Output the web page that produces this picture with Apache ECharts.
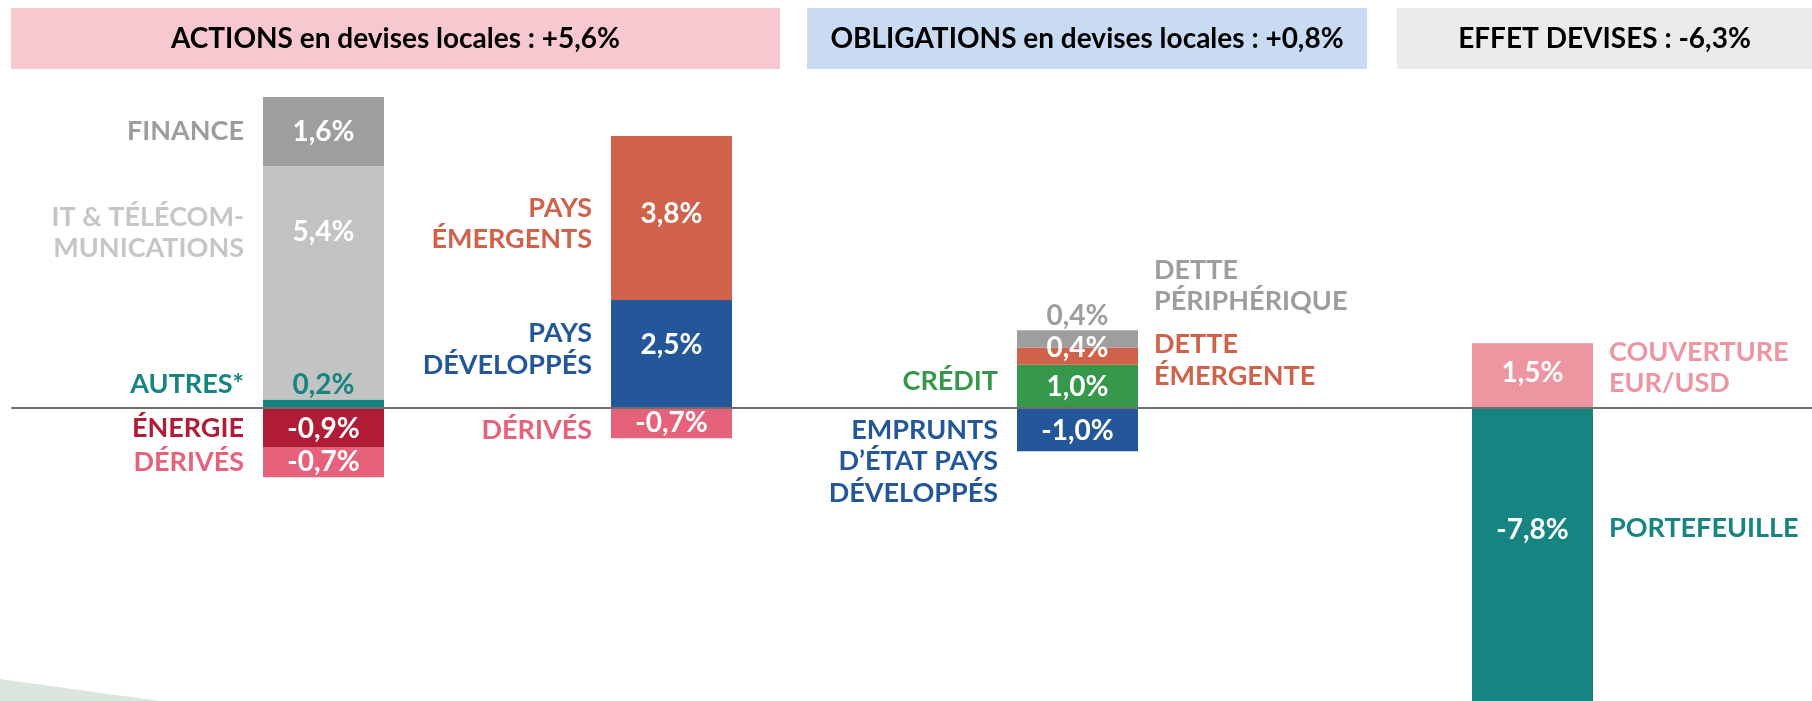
<!DOCTYPE html>
<html>
<head>
<meta charset="utf-8">
<script src="https://cdn.jsdelivr.net/npm/echarts@6/dist/echarts.min.js"></script>
<style>
  html, body { margin: 0; padding: 0; background: #fff; }
  #chart { width: 1812px; height: 701px; }
</style>
</head>
<body>
<div id="chart"></div>
<script>
// en-têtes des trois blocs
var headers = ['ACTIONS en devises locales : +5,6%', 'OBLIGATIONS en devises locales : +0,8%', 'EFFET DEVISES : -6,3%'];

// segments (ordre d'empilement : positifs depuis zéro vers le haut, négatifs vers le bas)
var names = [
  'AUTRES*', 'IT & TÉLÉCOM-\nMUNICATIONS', 'FINANCE', 'ÉNERGIE', 'DÉRIVÉS',
  'PAYS\nDÉVELOPPÉS', 'PAYS\nÉMERGENTS', 'DÉRIVÉS',
  'CRÉDIT', 'DETTE\nÉMERGENTE', 'DETTE\nPÉRIPHÉRIQUE', 'EMPRUNTS\nD’ÉTAT PAYS\nDÉVELOPPÉS',
  'COUVERTURE\nEUR/USD', 'PORTEFEUILLE'
];
var values = [0.2, 5.4, 1.6, -0.9, -0.7, 2.5, 3.8, -0.7, 1.0, 0.4, 0.4, -1.0, 1.5, -7.8];
var column = [0, 0, 0, 0, 0, 1, 1, 1, 2, 2, 2, 2, 3, 3];

// styles
var colors = ['#168480', '#c3c3c3', '#9e9e9e', '#b01c36', '#e6627a',
  '#24569a', '#d0614a', '#e6627a',
  '#35984a', '#d0614a', '#9e9e9e', '#24569a',
  '#ee95a2', '#168480'];
var valueColors = ['#168480', '#fff', '#fff', '#fff', '#fff', '#fff', '#fff', '#fff',
  '#fff', '#fff', '#9e9e9e', '#fff', '#fff', '#fff'];
var nameColors = ['#168480', '#c6c6c6', '#9d9d9d', '#b01c36', '#e6627a',
  '#24569a', '#d0614a', '#e6627a',
  '#35984a', '#d0614a', '#9d9d9d', '#24569a',
  '#ee95a2', '#168480'];
var nameSide = ['left', 'left', 'left', 'left', 'left', 'left', 'left', 'left',
  'left', 'right', 'right', 'left', 'right', 'right'];
var valueDy = [-19, -51, 0, 1, 0, -9, -4, 0, 0, -8, -23, 1, -3, -25];
var nameDy = [-19, -50, 0, 1, 0, -5, 6, 7, -5, 4, -53, 32, -8, -26];

var barLeft = [263, 611, 1017, 1472];
var barW = 121;
var yMin = -6.78, yMax = 7.2;
var font = 'Lato';

var grids = [{ left: 12, right: 0, top: 97, bottom: 0 }];
var xAxes = [{
  gridIndex: 0, type: 'category', data: [''],
  axisLine: { lineStyle: { color: '#6e6e6e', width: 2 } },
  axisTick: { show: false }, axisLabel: { show: false }, z: 5
}];
var yAxes = [{ gridIndex: 0, type: 'value', min: yMin, max: yMax, show: false }];

barLeft.forEach(function (l, i) {
  grids.push({ left: l, width: barW, top: 97, bottom: 0 });
  xAxes.push({ gridIndex: i + 1, type: 'category', data: [''], show: false });
  yAxes.push({ gridIndex: i + 1, type: 'value', min: yMin, max: yMax, show: false });
});

function fmt(v) {
  return v.toFixed(1).replace('.', ',') + '%';
}

var series = [];
values.forEach(function (v, i) {
  var ax = column[i] + 1;
  series.push({
    type: 'bar', xAxisIndex: ax, yAxisIndex: ax, stack: 'v' + ax,
    barWidth: '100%', barGap: '-100%',
    data: [v],
    itemStyle: { color: colors[i] },
    label: {
      show: true, position: 'inside', offset: [0, valueDy[i]],
      formatter: fmt(v), color: valueColors[i],
      fontFamily: font, fontWeight: 'bold', fontSize: 28
    },
    silent: true
  });
  // série transparente qui ne porte que le nom du segment
  series.push({
    type: 'bar', xAxisIndex: ax, yAxisIndex: ax, stack: 'n' + ax,
    barWidth: '100%', barGap: '-100%',
    data: [v],
    itemStyle: { color: 'rgba(0,0,0,0)' },
    label: {
      show: true, position: nameSide[i], distance: nameSide[i] === 'left' ? 19 : 16,
      offset: [0, nameDy[i]],
      align: nameSide[i] === 'left' ? 'right' : 'left',
      formatter: names[i], color: nameColors[i], lineHeight: 31.6,
      fontFamily: font, fontWeight: 'bold', fontSize: 27
    },
    silent: true
  });
});

var headerBoxes = [[11, 780], [807, 1367], [1397, 1812]];
var headerColors = ['#f7c8d0', '#c9dbf2', '#ebebeb'];
var graphic = [];
headers.forEach(function (t, i) {
  var x0 = headerBoxes[i][0], x1 = headerBoxes[i][1];
  graphic.push({
    type: 'rect', z: 1,
    shape: { x: x0, y: 8, width: x1 - x0, height: 61 },
    style: { fill: headerColors[i] }
  });
  graphic.push({
    type: 'text', z: 2,
    x: (x0 + x1) / 2, y: 39,
    style: {
      text: t, fill: '#000', font: 'bold 28px Lato',
      textAlign: 'center', textVerticalAlign: 'middle'
    }
  });
});
graphic.push({
  type: 'polygon', z: 0,
  shape: { points: [[0, 679], [160, 701], [0, 701]] },
  style: { fill: '#dde6de' }
});

var chart = echarts.init(document.getElementById('chart'));
chart.setOption({
  animation: false,
  grid: grids,
  xAxis: xAxes,
  yAxis: yAxes,
  graphic: graphic,
  series: series
});
</script>
</body>
</html>
